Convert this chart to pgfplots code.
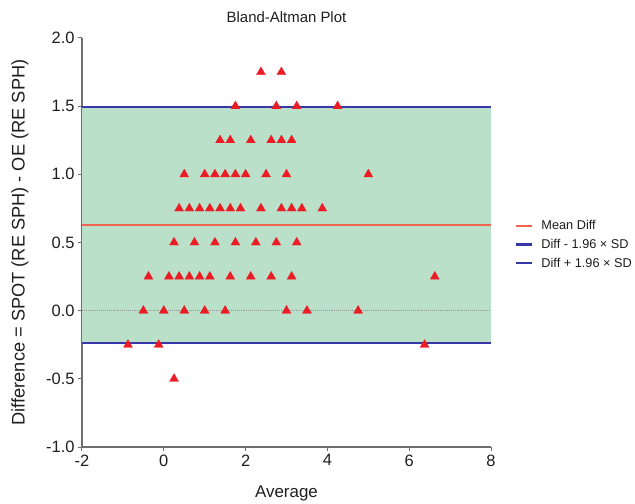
\documentclass[border=0pt]{standalone}
\usepackage{pgfplots}
\pgfplotsset{compat=1.18}
\usepackage{pgfplotstable}
\usepackage{fontspec}
\setmainfont{Liberation Sans}
\definecolor{band}{RGB}{186,224,201}
\definecolor{tri}{RGB}{236,28,36}
\definecolor{meanc}{RGB}{242,100,80}
\definecolor{sdc}{RGB}{55,55,170}
\definecolor{axc}{RGB}{110,110,110}
\definecolor{zeroc}{RGB}{150,150,150}
\definecolor{txt}{RGB}{30,30,30}
\pgfplotstableread{
x y
2.375 1.75
2.875 1.75
1.75 1.5
2.75 1.5
3.25 1.5
4.25 1.5
1.375 1.25
1.625 1.25
2.125 1.25
2.625 1.25
2.875 1.25
3.125 1.25
0.5 1.0
1.0 1.0
1.25 1.0
1.5 1.0
1.75 1.0
2.0 1.0
2.5 1.0
3.0 1.0
5.0 1.0
0.375 0.75
0.625 0.75
0.875 0.75
1.125 0.75
1.375 0.75
1.625 0.75
1.875 0.75
2.375 0.75
2.875 0.75
3.125 0.75
3.375 0.75
3.875 0.75
0.25 0.5
0.75 0.5
1.25 0.5
1.75 0.5
2.25 0.5
2.75 0.5
3.25 0.5
-0.375 0.25
0.125 0.25
0.375 0.25
0.625 0.25
0.875 0.25
1.125 0.25
1.625 0.25
2.125 0.25
2.625 0.25
3.125 0.25
6.625 0.25
-0.5 0
0 0
0.5 0
1.0 0
1.5 0
3.0 0
3.5 0
4.75 0
-0.875 -0.25
-0.125 -0.25
6.375 -0.25
0.25 -0.5
}\pts
\begin{document}
\begin{tikzpicture}
\begin{axis}[
 scale only axis, width=409bp, height=409bp,
 xmin=-2, xmax=8, ymin=-1, ymax=2,
 axis lines=left,
 axis line style={-, draw=axc, line width=1.3bp},
 xtick={-2,0,2,4,6,8}, ytick={-1,-0.5,0,0.5,1,1.5,2},
 tick align=outside, major tick length=4bp,
 tick style={draw=axc, line width=1bp},
 /pgf/number format/assume math mode=true,
 yticklabel style={/pgf/number format/fixed, /pgf/number format/fixed zerofill, /pgf/number format/precision=1},
 tick label style={font=\fontsize{16.5}{18}\selectfont, text=txt},
 title={Bland-Altman Plot},
 title style={at={(axis description cs:0.5,1)}, anchor=center, yshift=15bp, font=\fontsize{15}{17}\selectfont, text=txt},
 xlabel={Average},
 xlabel style={at={(axis description cs:0.5,0)}, anchor=center, yshift=-46bp, font=\fontsize{17}{19}\selectfont, text=txt},
 ylabel={Difference = SPOT (RE SPH) - OE (RE SPH)},
 ylabel style={at={(axis description cs:0,0.5)}, anchor=center, yshift=62bp, font=\fontsize{18.3}{20}\selectfont, text=txt},
 legend style={draw=none, fill=none, at={(axis description cs:1,0.495)}, anchor=west, xshift=24bp, font=\fontsize{12.8}{14}\selectfont, row sep=4bp, inner sep=0pt, cells={anchor=west}, text=txt, /tikz/every odd column/.style={column sep=6bp}},
 legend image code/.code={\draw[#1, line width=2.2bp] (0bp,0bp) -- (16bp,0bp);},
]
\addplot[draw=none, fill=band, forget plot] coordinates {(-2,-0.239) (8,-0.239) (8,1.491) (-2,1.491)} -- cycle;
\addplot[zeroc, densely dotted, line width=1.1bp, forget plot] coordinates {(-2,0) (8,0)};
\addplot[draw=meanc, line width=2.2bp] coordinates {(-2,0.626) (8,0.626)};
\addlegendentry{Mean Diff}
\addplot[draw=sdc, line width=2.2bp] coordinates {(-2,-0.239) (8,-0.239)};
\addlegendentry{Diff - 1.96 × SD}
\addplot[draw=sdc, line width=2.2bp] coordinates {(-2,1.491) (8,1.491)};
\addlegendentry{Diff + 1.96 × SD}
\addplot[only marks, mark=triangle*, mark size=5.2pt, color=tri, mark options={fill=tri, draw=tri, line width=0.3bp}, forget plot] table[x=x,y=y] {\pts};
\end{axis}
\path ([xshift=-82bp,yshift=-57bp]current axis.south west) rectangle ([xshift=144bp,yshift=38bp]current axis.north east);
\end{tikzpicture}
\end{document}
